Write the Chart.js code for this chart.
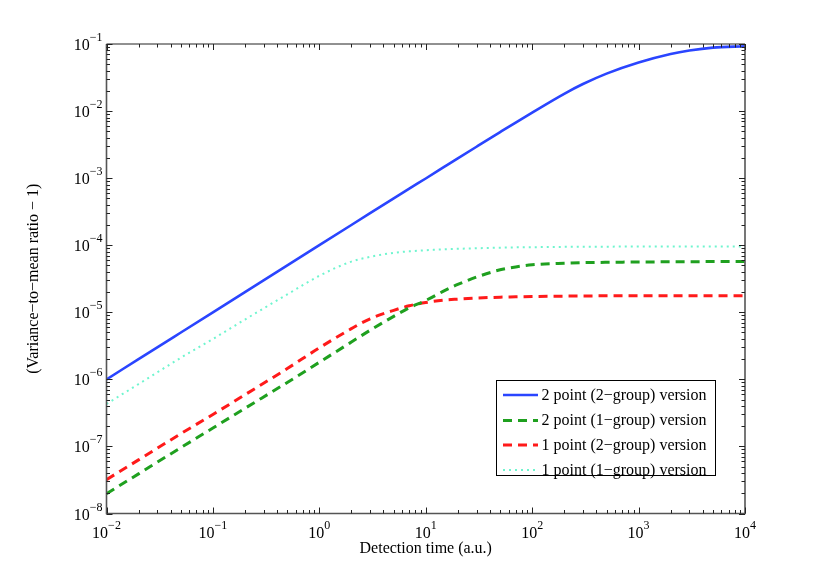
<!DOCTYPE html>
<html><head><meta charset="utf-8">
<script src="https://cdn.jsdelivr.net/npm/chart.js@4.4.1/dist/chart.umd.min.js"></script>
<style>html,body{margin:0;padding:0;background:#fff}#wrap{width:822px;height:579px;position:relative}</style>
</head><body><div id="wrap"><canvas id="c"></canvas></div>
<script>
const detectionTime = [0.01,0.02,0.05,0.1,0.2,0.5,1,2,3,5,7,10,15,20,30,50,70,100,200,300,500,1000,2000,3000,5000,10000];
const twoPointTwoGroup = [1.0e-6,2.0e-6,5.0e-6,1.0e-5,2.0e-5,5.0e-5,1.0e-4,2.0e-4,3.0e-4,5.0e-4,7.0e-4,9.88e-4,1.48e-3,1.97e-3,2.94e-3,4.86e-3,6.75e-3,9.5e-3,1.81e-2,2.53e-2,3.62e-2,5.3e-2,7.09e-2,7.99e-2,8.83e-2,9.27e-2];
const twoPointOneGroup = [1.97e-8,3.9e-8,9.6e-8,1.88e-7,3.7e-7,9.0e-7,1.8e-6,3.6e-6,5.4e-6,8.7e-6,1.17e-5,1.5e-5,2.1e-5,2.6e-5,3.35e-5,4.3e-5,4.75e-5,5.1e-5,5.4e-5,5.5e-5,5.56e-5,5.62e-5,5.66e-5,5.68e-5,5.7e-5,5.7e-5];
const onePointTwoGroup = [3.2e-8,6.3e-8,1.55e-7,3.0e-7,5.9e-7,1.45e-6,2.95e-6,5.7e-6,8.0e-6,1.07e-5,1.25e-5,1.4e-5,1.52e-5,1.57e-5,1.63e-5,1.68e-5,1.7e-5,1.72e-5,1.74e-5,1.75e-5,1.76e-5,1.77e-5,1.77e-5,1.77e-5,1.77e-5,1.77e-5];
const onePointOneGroup = [4.3e-7,8.5e-7,2.1e-6,4.0e-6,7.8e-6,1.85e-5,3.5e-5,5.7e-5,6.7e-5,7.7e-5,8.1e-5,8.4e-5,8.7e-5,8.85e-5,9.0e-5,9.2e-5,9.3e-5,9.35e-5,9.45e-5,9.5e-5,9.52e-5,9.55e-5,9.57e-5,9.58e-5,9.6e-5,9.6e-5];
const seriesLabels = ['2 point (2\u2212group) version','2 point (1\u2212group) version','1 point (2\u2212group) version','1 point (1\u2212group) version'];
const xTickExponents = [-2,-1,0,1,2,3,4];
const yTickExponents = [-8,-7,-6,-5,-4,-3,-2,-1];
const xTitle = 'Detection time (a.u.)';
const yTitle = '(Variance\u2212to\u2212mean ratio \u2212 1)';

const pts = arr => detectionTime.map((t,i)=>({x:t,y:arr[i]}));
const FONT = '"Liberation Serif", "Times New Roman", serif';

const decor = {
  id:'decor',
  afterDatasetsDraw(chart){
    const ctx = chart.ctx, a = chart.chartArea;
    const xs = chart.scales.x, ys = chart.scales.y;
    ctx.save();
    // box
    ctx.strokeStyle = '#222'; ctx.lineWidth = 1;
    ctx.beginPath();
    ctx.moveTo(a.left, a.top); ctx.lineTo(a.right, a.top); ctx.stroke();
    ctx.strokeStyle = '#555'; ctx.lineWidth = 1.6;
    ctx.beginPath();
    ctx.moveTo(a.left, a.top); ctx.lineTo(a.left, a.bottom); ctx.lineTo(a.right, a.bottom); ctx.lineTo(a.right, a.top);
    ctx.stroke();
    // ticks
    ctx.strokeStyle = '#222'; ctx.lineWidth = 1;
    const xe0 = xTickExponents[0], xe1 = xTickExponents[xTickExponents.length-1];
    for (let e = xe0; e <= xe1; e++) {
      for (let m = 1; m <= (e===xe1?1:9); m++) {
        const px = Math.round(xs.getPixelForValue(m*Math.pow(10,e)))+0.5;
        const len = m===1?6:3.5;
        ctx.beginPath();
        ctx.moveTo(px, a.bottom); ctx.lineTo(px, a.bottom-len);
        ctx.moveTo(px, a.top); ctx.lineTo(px, a.top+len);
        ctx.stroke();
      }
    }
    const ye0 = yTickExponents[0], ye1 = yTickExponents[yTickExponents.length-1];
    for (let e = ye0; e <= ye1; e++) {
      for (let m = 1; m <= (e===ye1?1:9); m++) {
        const py = Math.round(ys.getPixelForValue(m*Math.pow(10,e)))+0.5;
        const len = m===1?6:3.5;
        ctx.beginPath();
        ctx.moveTo(a.left, py); ctx.lineTo(a.left+len, py);
        ctx.moveTo(a.right, py); ctx.lineTo(a.right-len, py);
        ctx.stroke();
      }
    }
    // tick labels
    ctx.fillStyle = '#000';
    const bigF = '16px '+FONT, supF = '12px '+FONT;
    xTickExponents.forEach(e=>{
      const px = xs.getPixelForValue(Math.pow(10,e));
      const s = String(e).replace('-','\u2212');
      ctx.font = bigF; const w1 = ctx.measureText('10').width;
      ctx.font = supF; const w2 = ctx.measureText(s).width;
      const x0 = px - (w1+w2)/2;
      ctx.textAlign='left'; ctx.textBaseline='alphabetic';
      ctx.font = bigF; ctx.fillText('10', x0, 538);
      ctx.font = supF; ctx.fillText(s, x0+w1, 529);
    });
    yTickExponents.forEach(e=>{
      const py = ys.getPixelForValue(Math.pow(10,e));
      const s = String(e).replace('-','\u2212');
      ctx.font = bigF; const w1 = ctx.measureText('10').width;
      ctx.font = supF; const w2 = ctx.measureText(s).width;
      const x0 = a.left - 4 - w1 - w2;
      ctx.textAlign='left'; ctx.textBaseline='alphabetic';
      ctx.font = bigF; ctx.fillText('10', x0, py+6);
      ctx.font = supF; ctx.fillText(s, x0+w1, py-3);
    });
    // axis titles
    ctx.font = '16px '+FONT;
    ctx.textAlign='center'; ctx.textBaseline='middle';
    ctx.fillText(xTitle, (a.left+a.right)/2, 549);
    ctx.save();
    ctx.translate(34, (a.top+a.bottom)/2); ctx.rotate(-Math.PI/2);
    ctx.fillText(yTitle, 0, 0);
    ctx.restore();
    // legend
    const L = {left:496.5, top:380.5, right:715.5, bottom:475.5};
    ctx.fillStyle='#fff';
    ctx.fillRect(L.left, L.top, L.right-L.left, L.bottom-L.top);
    ctx.strokeStyle='#000'; ctx.lineWidth=1;
    ctx.strokeRect(L.left, L.top, L.right-L.left, L.bottom-L.top);
    const rows = [395, 420.5, 445, 470];
    chart.data.datasets.forEach((ds,i)=>{
      const y = rows[i];
      ctx.save();
      ctx.strokeStyle = ds.borderColor; ctx.lineWidth = ds.borderWidth;
      ctx.setLineDash(ds.borderDash||[]);
      ctx.beginPath(); ctx.moveTo(503, y); ctx.lineTo(538, y); ctx.stroke();
      ctx.restore();
      ctx.fillStyle='#000'; ctx.font='16px '+FONT; ctx.textAlign='left'; ctx.textBaseline='middle';
      ctx.fillText(ds.label, 541.5, y+0.5);
    });
    ctx.restore();
  }
};

new Chart(document.getElementById('c'), {
  type:'line',
  data:{datasets:[
    {label:seriesLabels[0], data:pts(twoPointTwoGroup), borderColor:'#2a45ff', borderWidth:2.6},
    {label:seriesLabels[1], data:pts(twoPointOneGroup), borderColor:'#1fa01f', borderWidth:3, borderDash:[9,6]},
    {label:seriesLabels[2], data:pts(onePointTwoGroup), borderColor:'#ff1a1a', borderWidth:3, borderDash:[9,6]},
    {label:seriesLabels[3], data:pts(onePointOneGroup), borderColor:'#6ff5cf', borderWidth:2, borderDash:[2,4]}
  ]},
  options:{
    responsive:true, maintainAspectRatio:false, animation:false,
    layout:{padding:{left:106.5, top:44, right:77, bottom:65.5}},
    elements:{point:{radius:0}, line:{cubicInterpolationMode:'monotone', borderCapStyle:'butt'}},
    scales:{
      x:{type:'logarithmic', min:0.01, max:10000, display:false},
      y:{type:'logarithmic', min:1e-8, max:0.1, display:false}
    },
    plugins:{legend:{display:false}, tooltip:{enabled:false}}
  },
  plugins:[decor]
});
</script></body></html>
